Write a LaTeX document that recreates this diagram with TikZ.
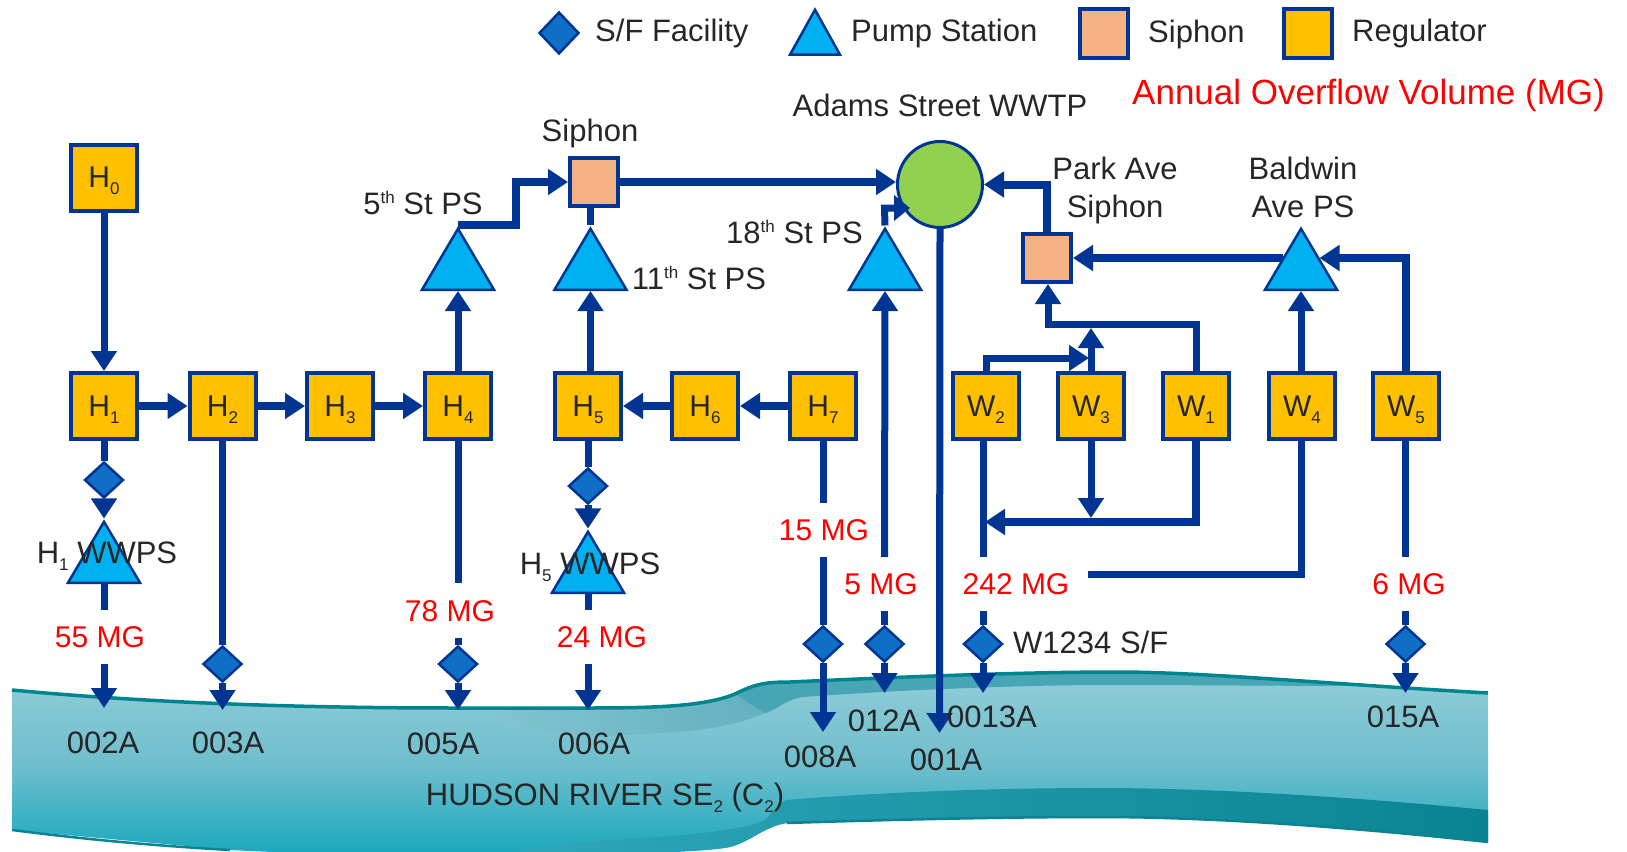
\documentclass[tikz,border=0pt]{standalone}
\usepackage{fontspec}
\setmainfont{Liberation Sans}
\usetikzlibrary{arrows.meta,shapes.geometric,calc}
\definecolor{navy}{HTML}{003594}
\definecolor{regfill}{HTML}{FFC000}
\definecolor{sipfill}{HTML}{F4B183}
\definecolor{pumpfill}{HTML}{00B0F0}
\definecolor{sffill}{HTML}{0F6FC6}
\definecolor{plantfill}{HTML}{92D050}
\definecolor{ink}{HTML}{262626}
\definecolor{volred}{HTML}{FF0000}
\definecolor{rim}{HTML}{00858F}
\definecolor{riverA}{HTML}{92CDD8}
\definecolor{riverB}{HTML}{6EBECD}
\definecolor{riverC}{HTML}{15A7BC}
\definecolor{riverD}{HTML}{2FA6BA}
\definecolor{riverE}{HTML}{0A8392}
\definecolor{riverF}{HTML}{5FAEBD}
\definecolor{riverG}{HTML}{48A5B6}
\definecolor{riverH}{HTML}{84C5D1}
\newcommand{\sbs}[1]{\smash{\raisebox{-7pt}{\fontsize{17}{17}\selectfont #1}}}
\newcommand{\sps}[1]{\smash{\raisebox{11pt}{\fontsize{17}{17}\selectfont #1}}}
\newcommand{\rivertop}{(12,690) .. controls (150,703) and (300,708) .. (459,708) -- (587,708) .. controls (660,708) and (705,706) .. (735,694) .. controls (755,684) and (765,682) .. (790,682) .. controls (900,677) and (1020,672) .. (1119,672) .. controls (1200,672) and (1330,684) .. (1488,693)}
\tikzset{
  box/.style={rectangle,draw=navy,line width=4pt,inner sep=0pt,minimum width=66pt,minimum height=66pt,fill=regfill,text=ink,font=\fontsize{30}{30}\selectfont},
  sip/.style={rectangle,draw=navy,line width=4pt,inner sep=0pt,minimum width=48pt,minimum height=48pt,fill=sipfill},
  legendbox/.style={rectangle,draw=navy,line width=4pt,inner sep=0pt,minimum width=48pt,minimum height=49pt},
  pump/.style={isosceles triangle,isosceles triangle stretches,shape border rotate=90,draw=navy,line width=2.5pt,fill=pumpfill,inner sep=0pt,minimum width=72pt,minimum height=61pt,anchor=lower side},
  sf/.style={diamond,draw=navy,line width=2.5pt,fill=sffill,inner sep=0pt,minimum width=39pt,minimum height=36pt},
  plant/.style={ellipse,draw=navy,line width=3pt,fill=plantfill,inner sep=0pt,minimum width=85pt,minimum height=86pt},
  lab/.style={text=ink,font=\fontsize{31}{31}\selectfont,inner sep=0pt,align=center},
  vol/.style={text=volred,font=\fontsize{30}{30}\selectfont,inner sep=0pt},
  pipe/.style={draw=navy,line width=7pt},
  flow/.style={pipe,-{Triangle[width=25pt,length=20pt]}},
}
\begin{document}
\begin{tikzpicture}[x=1pt,y=-1pt]
\useasboundingbox (0,0) rectangle (1627,851);
% river
\begin{scope}
\clip (0,0) rectangle (1627,851);
\path[top color=riverA,bottom color=riverC,middle color=riverB] \rivertop -- (1488,842) .. controls (1330,825) and (1200,817) .. (1098,817) .. controls (1000,817) and (880,820) .. (787,823) .. controls (765,826) and (750,842) .. (730,847) .. controls (690,856) and (420,860) .. (230,850) -- (12,830) -- cycle;
\path[left color=riverD,right color=riverE] (510,852) .. controls (600,835) and (720,840) .. (765,820) .. controls (775,810) and (780,802) .. (787,800) .. controls (880,792) and (1000,788) .. (1098,788) .. controls (1200,788) and (1330,795) .. (1488,810) -- (1488,842) .. controls (1330,825) and (1200,817) .. (1098,817) .. controls (1000,817) and (880,820) .. (787,823) .. controls (765,826) and (750,842) .. (730,847) .. controls (700,853) and (600,853) .. (510,852) -- cycle;
\path[left color=riverH,right color=riverF] (480,708) -- (587,708) .. controls (660,708) and (705,706) .. (735,694) .. controls (755,684) and (765,682) .. (790,684) -- (802,697) .. controls (785,700) and (775,712) .. (765,713) .. controls (730,728) and (690,732) .. (640,734) .. controls (590,738) and (530,736) .. (480,708) -- cycle;
\path[fill=riverG] (735,694) .. controls (755,684) and (765,682) .. (790,682) .. controls (900,677) and (1020,672) .. (1119,672) .. controls (1200,672) and (1300,680) .. (1370,686) .. controls (1280,686) and (1200,685) .. (1108,685) .. controls (1020,685) and (900,690) .. (802,697) .. controls (785,699) and (775,710) .. (765,713) -- cycle;
\draw[rim,line width=3.5pt] \rivertop;
\draw[riverE,line width=2.5pt] (12,830) .. controls (90,840) and (160,846) .. (230,850) (787,823) .. controls (880,820) and (1000,817) .. (1098,817) .. controls (1200,817) and (1330,825) .. (1488,842);
\end{scope}
% regulators
\node[box] (H0) at (104,177.5) {H\sbs{0}};
\foreach \n/\s/\d/\x in {H1/H/1/104,H2/H/2/222.5,H3/H/3/340,H4/H/4/458,H5/H/5/588,H6/H/6/705,H7/H/7/823,W2/W/2/986,W3/W/3/1091,W1/W/1/1196,W4/W/4/1302,W5/W/5/1406}{
  \node[box] (\n) at (\x,406) {\s\sbs{\d}};
}
% siphons and plant
\node[sip] (S1) at (594,182) {};
\node[sip] (S2) at (1047,258) {};
\node[plant] (P) at (940,184.5) {};
% pump stations
\node[pump] (T5) at (458,291) {};
\node[pump] (T11) at (590.5,291) {};
\node[pump] (T18) at (885,291) {};
\node[pump] (TB) at (1301,291) {};
\node[pump] (TH1) at (104,584) {};
\node[pump] (TH5) at (588,594) {};
% S/F facilities
\node[sf] (D1) at (104,480) {};
\node[sf] (D2) at (222.5,664) {};
\node[sf] (D4) at (458,664) {};
\node[sf] (D5) at (588,486) {};
\node[sf] (D7) at (823,644) {};
\node[sf] (D18) at (884.5,644) {};
\node[sf] (DW) at (983,644) {};
\node[sf] (DW5) at (1405.5,644) {};
% volumes
\node[vol] (V55) at (100,637) {55 MG};
\node[vol] (V78) at (450,611) {78 MG};
\node[vol] (V24) at (602,637) {24 MG};
\node[vol] (V15) at (824,530) {15 MG};
\node[vol] (V5) at (881,584) {5 MG};
\node[vol] (V242) at (1016,584) {242 MG};
\node[vol] (V6) at (1409,584) {6 MG};
% free ends
\coordinate (E2) at (104,708);
\coordinate (E3) at (222.5,710);
\coordinate (E5) at (458,710);
\coordinate (E6) at (588,710);
\coordinate (E8) at (823,732);
\coordinate (E12) at (884.5,693);
\coordinate (E1) at (939.5,733);
\coordinate (E13) at (983,693);
\coordinate (E15) at (1405.5,693);
\coordinate (gapH1a) at (104,610);
\coordinate (gapH1b) at (104,664);
\coordinate (gapH4a) at (458,583);
\coordinate (gapH4b) at (458,638);
\coordinate (gapH5a) at (588,610);
\coordinate (gapH5b) at (588,664);
\coordinate (gapH7a) at (823,503);
\coordinate (gapH7b) at (823,557);
\coordinate (gap18a) at (884.5,557);
\coordinate (gap18b) at (884.5,611);
\coordinate (gapWa) at (983,557);
\coordinate (gapWb) at (983,611);
\coordinate (gapW5a) at (1405.5,557);
\coordinate (gapW5b) at (1405.5,611);
\coordinate (W4end) at (1088,574);
\coordinate (J5) at (516,182);
\coordinate (J18) at (884.5,208);
\coordinate (T18tip) at (910,208);
\coordinate (W1up) at (1196,324);
\coordinate (S2foot) at (1048,324);
\coordinate (W2up) at (986,358);
\coordinate (W3mid) at (1089,358);
\coordinate (W3tip) at (1091,328);
\coordinate (W3low) at (1091,518);
\coordinate (W1low) at (1196,522);
\coordinate (W2line) at (985,522);
\coordinate (BLeft) at (1283,258);
\coordinate (BRight) at (1319.5,258);
% connectors
\draw[flow] (H0.south) -- (H1.north);
\draw[flow,line width=8pt] (H1.east) -- (H2.west);
\draw[flow,line width=8pt] (H2.east) -- (H3.west);
\draw[flow,line width=8pt] (H3.east) -- (H4.west);
\draw[flow,line width=8pt] (H7.west) -- (H6.east);
\draw[flow,line width=8pt] (H6.west) -- (H5.east);
\draw[pipe] (H1.south) -- (D1.north);
\draw[flow] (D1.south) -- (TH1.apex);
\draw[pipe] (TH1.lower side) -- (gapH1a);
\draw[flow] (gapH1b) -- (E2);
\draw[pipe] (H2.south) -- (D2.north);
\draw[flow] (D2.south) -- (E3);
\draw[pipe] (H4.south) -- (gapH4a);
\draw[pipe] (gapH4b) -- (D4.north);
\draw[flow] (D4.south) -- (E5);
\draw[pipe] (H5.south) -- (D5.north);
\draw[flow] (D5.south) -- (TH5.apex);
\draw[pipe] (TH5.lower side) -- (gapH5a);
\draw[flow] (gapH5b) -- (E6);
\draw[flow] (H4.north) -- (T5.lower side);
\draw[flow] (H5.north -| T11.lower side) -- (T11.lower side);
\draw[pipe] (T11.apex) -- (S1.south -| T11.apex);
\draw[flow,line width=8pt] (T5.apex) -| (J5) -- (S1.west);
\draw[flow,line width=8pt] (S1.east) -- (P.west |- S1.east);
\draw[flow] (gap18a) -- (T18.lower side);
\draw[pipe,-{Triangle[width=25pt,length=16pt]}] (T18.apex) -- (J18) -- (T18tip);
\draw[flow] (P.south) -- (E1);
\draw[flow,line width=8pt] (S2.north) |- (P.east);
\draw[flow,line width=8pt] (BLeft) -- (S2.east);
\draw[flow,line width=8pt] (W5.north) |- (BRight);
\draw[flow] (W4.north -| TB.lower side) -- (TB.lower side);
\draw[flow] (W1.north) -- (W1up) -- (S2foot) -- (S2.south -| S2foot);
\draw[flow] (W3.north) -- (W3tip);
\draw[flow] (W2.north) -- (W2up) -- (W3mid);
\draw[flow] (W3.south) -- (W3low);
\draw[flow,line width=8pt] (W1.south) -- (W1low) -- (W2line);
\draw[pipe] (W2.south -| gapWa) -- (gapWa);
\draw[pipe] (gapWb) -- (DW.north);
\draw[flow] (DW.south) -- (E13);
\draw[pipe] (W4.south -| TB.lower side) -- (TB.lower side |- W4end) -- (W4end);
\draw[pipe] (W5.south -| gapW5a) -- (gapW5a);
\draw[pipe] (gapW5b) -- (DW5.north);
\draw[flow] (DW5.south) -- (E15);
\draw[pipe] (H7.south) -- (gapH7a);
\draw[pipe] (gapH7b) -- (D7.north);
\draw[flow] (D7.south) -- (E8);
\draw[pipe] (gap18b) -- (D18.north);
\draw[flow] (D18.south) -- (E12);
% labels
\node[lab] (LH1) at (107,553) {H\sbs{1} WWPS};
\node[lab] (LH5) at (590,564) {H\sbs{5} WWPS};
\node[lab,anchor=west] (LW) at (1013,642) {W1234 S/F};
\node[lab] (L2) at (103,743) {002A};
\node[lab] (L3) at (228,743) {003A};
\node[lab] (L5) at (443,744) {005A};
\node[lab] (L6) at (594,744) {006A};
\node[lab] (L8) at (820,757) {008A};
\node[lab] (L12) at (884,721) {012A};
\node[lab] (L1) at (946,760) {001A};
\node[lab] (L13) at (992,717) {0013A};
\node[lab] (L15) at (1403,717) {015A};
\node[lab] (LR) at (605,797) {HUDSON RIVER SE\sbs{2} (C\sbs{2})};
\node[lab] (LS) at (590,133) {Siphon};
\node[lab] (L5th) at (423,204) {5\sps{th} St PS};
\node[lab] (L11) at (699,279) {11\sps{th} St PS};
\node[lab] (L18) at (794.5,233) {18\sps{th} St PS};
\node[lab] (LPark) at (1115,190) {Park Ave\\[7pt]Siphon};
\node[lab] (LBald) at (1303,187) {Baldwin\\[7pt]Ave PS};
\node[lab] (LAd) at (940,105) {Adams Street WWTP};
% legend
\node[sf,minimum width=40pt,minimum height=42pt] (kS) at (559,33) {};
\node[lab,anchor=west] (kSt) at (595,33) {S/F Facility};
\node[pump,minimum width=50pt,minimum height=45pt] (kP) at (815,56) {};
\node[lab,anchor=west] (kPt) at (851,33) {Pump Station};
\node[legendbox,fill=sipfill] (kY) at (1104,33.5) {};
\node[lab,anchor=west] (kYt) at (1148,34) {Siphon};
\node[legendbox,fill=regfill] (kR) at (1308,33.5) {};
\node[lab,anchor=west] (kRt) at (1352,33) {Regulator};
\node[text=volred,font=\fontsize{35}{35}\selectfont,inner sep=0pt,anchor=west] (kV) at (1132,95) {Annual Overflow Volume (MG)};
\end{tikzpicture}
\end{document}
